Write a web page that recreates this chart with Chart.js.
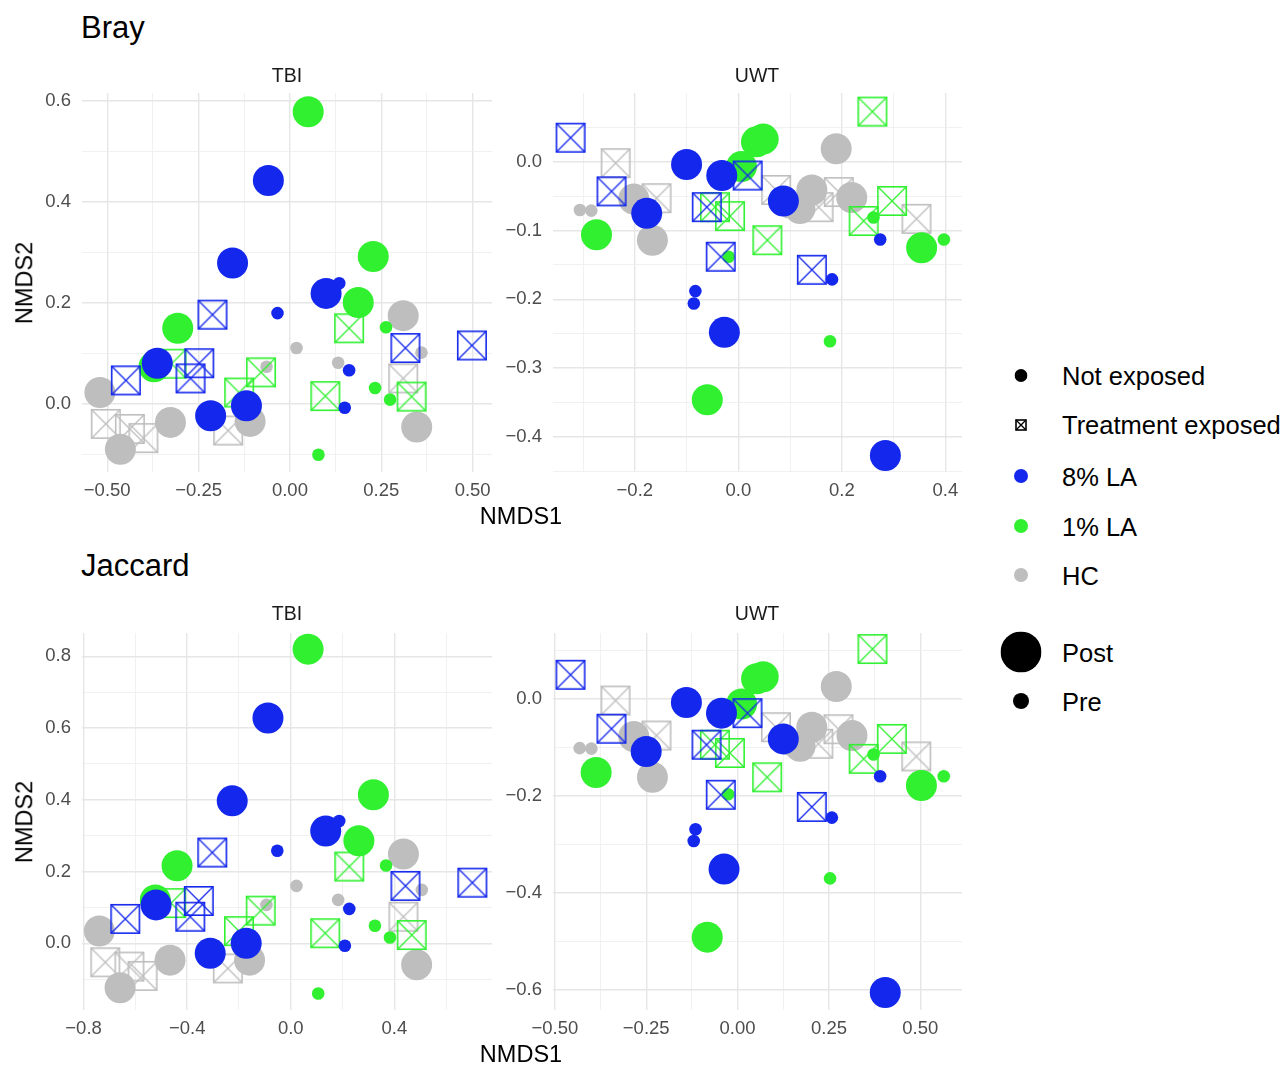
<!DOCTYPE html>
<html>
<head>
<meta charset="utf-8">
<script src="https://cdn.jsdelivr.net/npm/chart.js@4.4.1/dist/chart.umd.min.js"></script>
<style>
  body { margin: 0; background: #fff; font-family: "Liberation Sans", Arial, sans-serif; }
  #page { position: relative; width: 1288px; height: 1080px; overflow: hidden; }
  .txt { position: absolute; white-space: nowrap; line-height: 1; }
  .title { font-size: 31px; color: #000; }
  .strip { font-size: 19.5px; color: #1a1a1a; transform: translate(-50%, -50%); }
  .axt { font-size: 23.5px; color: #000; transform: translate(-50%, -50%); }
  .axt.rot { transform: translate(-50%, -50%) rotate(-90deg); }
  .leg { font-size: 25.5px; color: #000; transform: translateY(-50%); }
  .sym { position: absolute; transform: translate(-50%, -50%); }
  canvas { position: absolute; }
</style>
</head>
<body>
<div id="page"></div>
<script>
// categories
const groups = ['8% LA', '1% LA', 'HC'];
const exposures = ['Not exposed', 'Treatment exposed'];
const timepoints = ['Post', 'Pre'];

// ---- Bray / TBI ----
const brayTbiLA8Post = [[-0.059,0.442],[-0.157,0.279],[0.099,0.219],[-0.363,0.081],[-0.217,-0.023],[-0.119,-0.003]];
const brayTbiLA8Pre  = [[0.135,0.239],[-0.034,0.180],[0.162,0.067],[0.150,-0.007]];
const brayTbiLA8Exp  = [[-0.212,0.177],[-0.449,0.047],[-0.248,0.081],[-0.272,0.051],[0.316,0.111],[0.498,0.116]];
const brayTbiLA1Post = [[0.050,0.578],[0.228,0.292],[0.187,0.201],[-0.307,0.150],[-0.372,0.074]];
const brayTbiLA1Pre  = [[0.263,0.152],[0.233,0.032],[0.274,0.009],[0.078,-0.100]];
const brayTbiLA1Exp  = [[0.162,0.150],[-0.079,0.063],[-0.139,0.023],[0.097,0.016],[0.333,0.015],[-0.324,0.080]];
const brayTbiHCPost  = [[-0.520,0.023],[-0.464,-0.089],[-0.327,-0.036],[-0.109,-0.034],[0.310,0.175],[0.347,-0.045]];
const brayTbiHCPre   = [[0.018,0.111],[-0.064,0.074],[0.132,0.082],[0.360,0.102]];
const brayTbiHCExp   = [[-0.504,-0.039],[-0.438,-0.049],[-0.401,-0.067],[-0.169,-0.052],[0.310,0.051]];

// ---- Bray / UWT ----
const brayUwtLA8Post = [[-0.100,-0.004],[-0.032,-0.020],[0.087,-0.057],[-0.177,-0.075],[-0.027,-0.248],[0.284,-0.427]];
const brayUwtLA8Pre  = [[-0.083,-0.188],[-0.086,-0.206],[0.274,-0.113],[0.181,-0.171]];
const brayUwtLA8Exp  = [[-0.324,0.035],[-0.245,-0.043],[-0.061,-0.066],[0.018,-0.020],[-0.034,-0.138],[0.142,-0.157]];
const brayUwtLA1Post = [[0.035,0.029],[0.048,0.033],[0.006,-0.007],[-0.274,-0.106],[0.354,-0.125],[-0.060,-0.346]];
const brayUwtLA1Pre  = [[0.261,-0.081],[0.397,-0.113],[-0.019,-0.138],[0.177,-0.261]];
const brayUwtLA1Exp  = [[0.259,0.073],[0.297,-0.057],[0.242,-0.086],[0.056,-0.114],[-0.016,-0.079],[-0.045,-0.066]];
const brayUwtHCPost  = [[0.189,0.019],[-0.202,-0.054],[-0.166,-0.114],[0.142,-0.041],[0.119,-0.068],[0.219,-0.052]];
const brayUwtHCPre   = [[-0.306,-0.070],[-0.284,-0.071],[0.095,-0.073]];
const brayUwtHCExp   = [[-0.237,-0.002],[-0.158,-0.053],[0.073,-0.041],[0.155,-0.066],[0.194,-0.044],[0.344,-0.083]];

// ---- Jaccard / TBI ----
const jacTbiLA8Post = [[-0.088,0.628],[-0.226,0.397],[0.135,0.313],[-0.520,0.107],[-0.311,-0.028],[-0.172,0.000]];
const jacTbiLA8Pre  = [[0.187,0.341],[-0.052,0.258],[0.226,0.096],[0.209,-0.007]];
const jacTbiLA8Exp  = [[-0.303,0.253],[-0.639,0.068],[-0.355,0.118],[-0.388,0.074],[0.443,0.160],[0.701,0.169]];
const jacTbiLA1Post = [[0.067,0.820],[0.319,0.414],[0.263,0.286],[-0.439,0.216],[-0.523,0.121]];
const jacTbiLA1Pre  = [[0.368,0.217],[0.325,0.049],[0.383,0.016],[0.106,-0.140]];
const jacTbiLA1Exp  = [[0.226,0.214],[-0.116,0.091],[-0.200,0.034],[0.133,0.028],[0.467,0.023],[-0.462,0.112]];
const jacTbiHCPost  = [[-0.739,0.034],[-0.659,-0.124],[-0.466,-0.047],[-0.159,-0.047],[0.435,0.249],[0.486,-0.060]];
const jacTbiHCPre   = [[0.022,0.160],[-0.094,0.107],[0.183,0.121],[0.506,0.149]];
const jacTbiHCExp   = [[-0.716,-0.053],[-0.623,-0.065],[-0.572,-0.091],[-0.243,-0.070],[0.435,0.074]];

// ---- Jaccard / UWT ----
const jacUwtLA8Post = [[-0.140,-0.008],[-0.044,-0.030],[0.125,-0.083],[-0.250,-0.109],[-0.037,-0.351],[0.404,-0.605]];
const jacUwtLA8Pre  = [[-0.115,-0.269],[-0.120,-0.293],[0.390,-0.160],[0.258,-0.245]];
const jacUwtLA8Exp  = [[-0.457,0.049],[-0.345,-0.062],[-0.085,-0.095],[0.027,-0.030],[-0.046,-0.198],[0.203,-0.223]];
const jacUwtLA1Post = [[0.052,0.041],[0.070,0.045],[0.011,-0.011],[-0.387,-0.152],[0.503,-0.179],[-0.083,-0.491]];
const jacUwtLA1Pre  = [[0.372,-0.115],[0.564,-0.160],[-0.026,-0.197],[0.253,-0.370]];
const jacUwtLA1Exp  = [[0.369,0.102],[0.422,-0.083],[0.345,-0.124],[0.081,-0.162],[-0.021,-0.112],[-0.062,-0.095]];
const jacUwtHCPost  = [[0.270,0.025],[-0.284,-0.078],[-0.233,-0.162],[0.203,-0.059],[0.171,-0.098],[0.313,-0.076]];
const jacUwtHCPre   = [[-0.432,-0.102],[-0.400,-0.103],[0.137,-0.104]];
const jacUwtHCExp   = [[-0.334,-0.004],[-0.222,-0.076],[0.105,-0.059],[0.221,-0.093],[0.276,-0.063],[0.489,-0.119]];

// tick values and labels
const brayTbiXTicks = [-0.5, -0.25, 0, 0.25, 0.5];
const brayTbiXLabels = ['\u22120.50', '\u22120.25', '0.00', '0.25', '0.50'];
const brayTbiYTicks = [0, 0.2, 0.4, 0.6];
const brayTbiYLabels = ['0.0', '0.2', '0.4', '0.6'];
const brayUwtXTicks = [-0.2, 0, 0.2, 0.4];
const brayUwtXLabels = ['\u22120.2', '0.0', '0.2', '0.4'];
const brayUwtYTicks = [-0.4, -0.3, -0.2, -0.1, 0];
const brayUwtYLabels = ['\u22120.4', '\u22120.3', '\u22120.2', '\u22120.1', '0.0'];
const jacTbiXTicks = [-0.8, -0.4, 0, 0.4];
const jacTbiXLabels = ['\u22120.8', '\u22120.4', '0.0', '0.4'];
const jacTbiYTicks = [0, 0.2, 0.4, 0.6, 0.8];
const jacTbiYLabels = ['0.0', '0.2', '0.4', '0.6', '0.8'];
const jacUwtXTicks = [-0.5, -0.25, 0, 0.25, 0.5];
const jacUwtXLabels = ['\u22120.50', '\u22120.25', '0.00', '0.25', '0.50'];
const jacUwtYTicks = [-0.6, -0.4, -0.2, 0];
const jacUwtYLabels = ['\u22120.6', '\u22120.4', '\u22120.2', '0.0'];

// axis limits (ggplot expanded ranges)
const brayTbiXLim = [-0.569, 0.553], brayTbiYLim = [-0.134, 0.615];
const brayUwtXLim = [-0.358, 0.432], brayUwtYLim = [-0.451, 0.100];
const jacTbiXLim = [-0.806, 0.777], jacTbiYLim = [-0.186, 0.865];
const jacUwtXLim = [-0.505, 0.614], jacUwtYLim = [-0.641, 0.135];

const COLORS = { '8% LA': '#1427ec', '1% LA': '#30f030', 'HC': '#bebebe' };
const FONT = '"Liberation Sans", Arial, sans-serif';
const PAD_T = 28, PAD_R = 36, Y_W = 70, X_H = 34;
const page = document.getElementById('page');

function addText(cls, text, x, y) {
  const d = document.createElement('div');
  d.className = 'txt ' + cls;
  d.textContent = text;
  d.style.left = x + 'px';
  d.style.top = y + 'px';
  page.appendChild(d);
  return d;
}

// square with a cross, used as pointStyle
function boxX(color, side, lw) {
  const c = document.createElement('canvas');
  const s = side + 2;
  c.width = s; c.height = s;
  const g = c.getContext('2d');
  g.strokeStyle = color;
  g.lineWidth = lw;
  const a = 1 + lw / 2, b = s - 1 - lw / 2;
  g.strokeRect(a, a, b - a, b - a);
  g.lineWidth = lw * 0.8;
  g.beginPath();
  g.moveTo(a, a); g.lineTo(b, b);
  g.moveTo(b, a); g.lineTo(a, b);
  g.stroke();
  return c;
}

function near(a, b) { return Math.abs(a - b) < 1e-9; }

function allTicks(major, lim) {
  const step = major[1] - major[0];
  const out = [];
  const first = major[0] - step / 2, last = major[major.length - 1] + step / 2;
  if (first >= lim[0]) out.push(first);
  major.forEach((v, i) => {
    out.push(v);
    if (i < major.length - 1) out.push((v + major[i + 1]) / 2);
  });
  if (last <= lim[1]) out.push(last);
  return out;
}

function scaleOpts(lim, major, labels, axis) {
  const isMajor = (v) => major.some(m => near(m, v));
  return {
    type: 'linear',
    min: lim[0], max: lim[1],
    afterBuildTicks: (s) => { s.ticks = allTicks(major, lim).map(v => ({ value: v })); },
    afterFit: (s) => { if (axis === 'x') s.height = X_H; else s.width = Y_W; },
    border: { display: false },
    grid: {
      drawTicks: false,
      color: (ctx) => (ctx.tick && isMajor(ctx.tick.value)) ? '#e6e6e6' : '#eeeeee',
      lineWidth: (ctx) => (ctx.tick && isMajor(ctx.tick.value)) ? 1.4 : 0.8
    },
    ticks: {
      autoSkip: false, maxRotation: 0, minRotation: 0,
      padding: axis === 'x' ? 8 : 11,
      color: '#4d4d4d',
      font: { family: FONT, size: 18.5 },
      callback: (v) => { const i = major.findIndex(m => near(m, v)); return i >= 0 ? labels[i] : ''; }
    }
  };
}

function makePanel(geo, series, xLim, yLim, xT, xL, yT, yL) {
  const cv = document.createElement('canvas');
  const w = geo.right - geo.left + Y_W + PAD_R, h = geo.bottom - geo.top + PAD_T + X_H;
  cv.width = w; cv.height = h;
  cv.style.left = (geo.left - Y_W) + 'px';
  cv.style.top = (geo.top - PAD_T) + 'px';
  page.appendChild(cv);

  // bottom-to-top drawing order
  const layers = [
    ['HC', 'exp'], ['HC', 'post'], ['HC', 'pre'],
    ['1% LA', 'post'], ['1% LA', 'pre'], ['1% LA', 'exp'],
    ['8% LA', 'post'], ['8% LA', 'pre'], ['8% LA', 'exp']
  ];
  const datasets = layers.map(([grp, kind]) => {
    const col = COLORS[grp];
    const pts = series[grp][kind].map(p => ({ x: p[0], y: p[1] }));
    if (kind === 'exp') {
      return { label: grp + ' ' + exposures[1], data: pts, pointStyle: boxX(col, 30, 1.6),
               pointRadius: 15, borderWidth: 0 };
    }
    return { label: grp + ' ' + (kind === 'post' ? timepoints[0] : timepoints[1]), data: pts,
             pointStyle: 'circle', pointRadius: kind === 'post' ? 15.5 : 6.3,
             backgroundColor: col, borderWidth: 0 };
  }).reverse();

  new Chart(cv, {
    type: 'scatter',
    data: { datasets },
    options: {
      responsive: false, animation: false,
      layout: { padding: { top: PAD_T, right: PAD_R, left: 0, bottom: 0 } },
      plugins: { legend: { display: false }, tooltip: { enabled: false } },
      scales: { x: scaleOpts(xLim, xT, xL, 'x'), y: scaleOpts(yLim, yT, yL, 'y') }
    }
  });
}

const geoTL = { left: 82, right: 492, top: 93, bottom: 472 };
const geoTR = { left: 553, right: 962, top: 93, bottom: 472 };
const geoBL = { left: 82, right: 492, top: 633, bottom: 1010 };
const geoBR = { left: 553, right: 962, top: 633, bottom: 1010 };

makePanel(geoTL, {
  '8% LA': { post: brayTbiLA8Post, pre: brayTbiLA8Pre, exp: brayTbiLA8Exp },
  '1% LA': { post: brayTbiLA1Post, pre: brayTbiLA1Pre, exp: brayTbiLA1Exp },
  'HC':    { post: brayTbiHCPost,  pre: brayTbiHCPre,  exp: brayTbiHCExp }
}, brayTbiXLim, brayTbiYLim, brayTbiXTicks, brayTbiXLabels, brayTbiYTicks, brayTbiYLabels);

makePanel(geoTR, {
  '8% LA': { post: brayUwtLA8Post, pre: brayUwtLA8Pre, exp: brayUwtLA8Exp },
  '1% LA': { post: brayUwtLA1Post, pre: brayUwtLA1Pre, exp: brayUwtLA1Exp },
  'HC':    { post: brayUwtHCPost,  pre: brayUwtHCPre,  exp: brayUwtHCExp }
}, brayUwtXLim, brayUwtYLim, brayUwtXTicks, brayUwtXLabels, brayUwtYTicks, brayUwtYLabels);

makePanel(geoBL, {
  '8% LA': { post: jacTbiLA8Post, pre: jacTbiLA8Pre, exp: jacTbiLA8Exp },
  '1% LA': { post: jacTbiLA1Post, pre: jacTbiLA1Pre, exp: jacTbiLA1Exp },
  'HC':    { post: jacTbiHCPost,  pre: jacTbiHCPre,  exp: jacTbiHCExp }
}, jacTbiXLim, jacTbiYLim, jacTbiXTicks, jacTbiXLabels, jacTbiYTicks, jacTbiYLabels);

makePanel(geoBR, {
  '8% LA': { post: jacUwtLA8Post, pre: jacUwtLA8Pre, exp: jacUwtLA8Exp },
  '1% LA': { post: jacUwtLA1Post, pre: jacUwtLA1Pre, exp: jacUwtLA1Exp },
  'HC':    { post: jacUwtHCPost,  pre: jacUwtHCPre,  exp: jacUwtHCExp }
}, jacUwtXLim, jacUwtYLim, jacUwtXTicks, jacUwtXLabels, jacUwtYTicks, jacUwtYLabels);

// titles, strips, axis titles
addText('title', 'Bray', 81, 12);
addText('title', 'Jaccard', 81, 550);
addText('strip', 'TBI', 287, 76);
addText('strip', 'UWT', 757, 76);
addText('strip', 'TBI', 287, 614);
addText('strip', 'UWT', 757, 614);
addText('axt', 'NMDS1', 521, 517);
addText('axt', 'NMDS1', 521, 1055);
addText('axt rot', 'NMDS2', 25, 283);
addText('axt rot', 'NMDS2', 25, 822);

// legend
function svgSym(inner, size, cx, cy) {
  const d = document.createElement('div');
  d.className = 'sym';
  d.style.left = cx + 'px'; d.style.top = cy + 'px';
  d.innerHTML = '<svg width="' + size + '" height="' + size + '" viewBox="0 0 ' + size + ' ' + size + '">' + inner + '</svg>';
  page.appendChild(d);
}
function dot(color, diam, cx, cy) {
  const r = diam / 2;
  svgSym('<circle cx="' + r + '" cy="' + r + '" r="' + r + '" fill="' + color + '"/>', diam, cx, cy);
}
const legX = 1021, legTextX = 1062;
dot('#000', 13, legX, 377); addText('leg', exposures[0], legTextX, 377);
svgSym('<rect x="1" y="1" width="10" height="10" fill="none" stroke="#000" stroke-width="1.6"/>' +
       '<path d="M1 1 L11 11 M11 1 L1 11" stroke="#000" stroke-width="1.3"/>', 12, legX, 426);
addText('leg', exposures[1], legTextX, 426);
dot(COLORS['8% LA'], 14, legX, 478); addText('leg', groups[0], legTextX, 478);
dot(COLORS['1% LA'], 14, legX, 528); addText('leg', groups[1], legTextX, 528);
dot(COLORS['HC'], 14, legX, 577); addText('leg', groups[2], legTextX, 577);
dot('#000', 41, legX, 654); addText('leg', timepoints[0], legTextX, 654);
dot('#000', 16, legX, 703); addText('leg', timepoints[1], legTextX, 703);
</script>
</body>
</html>
